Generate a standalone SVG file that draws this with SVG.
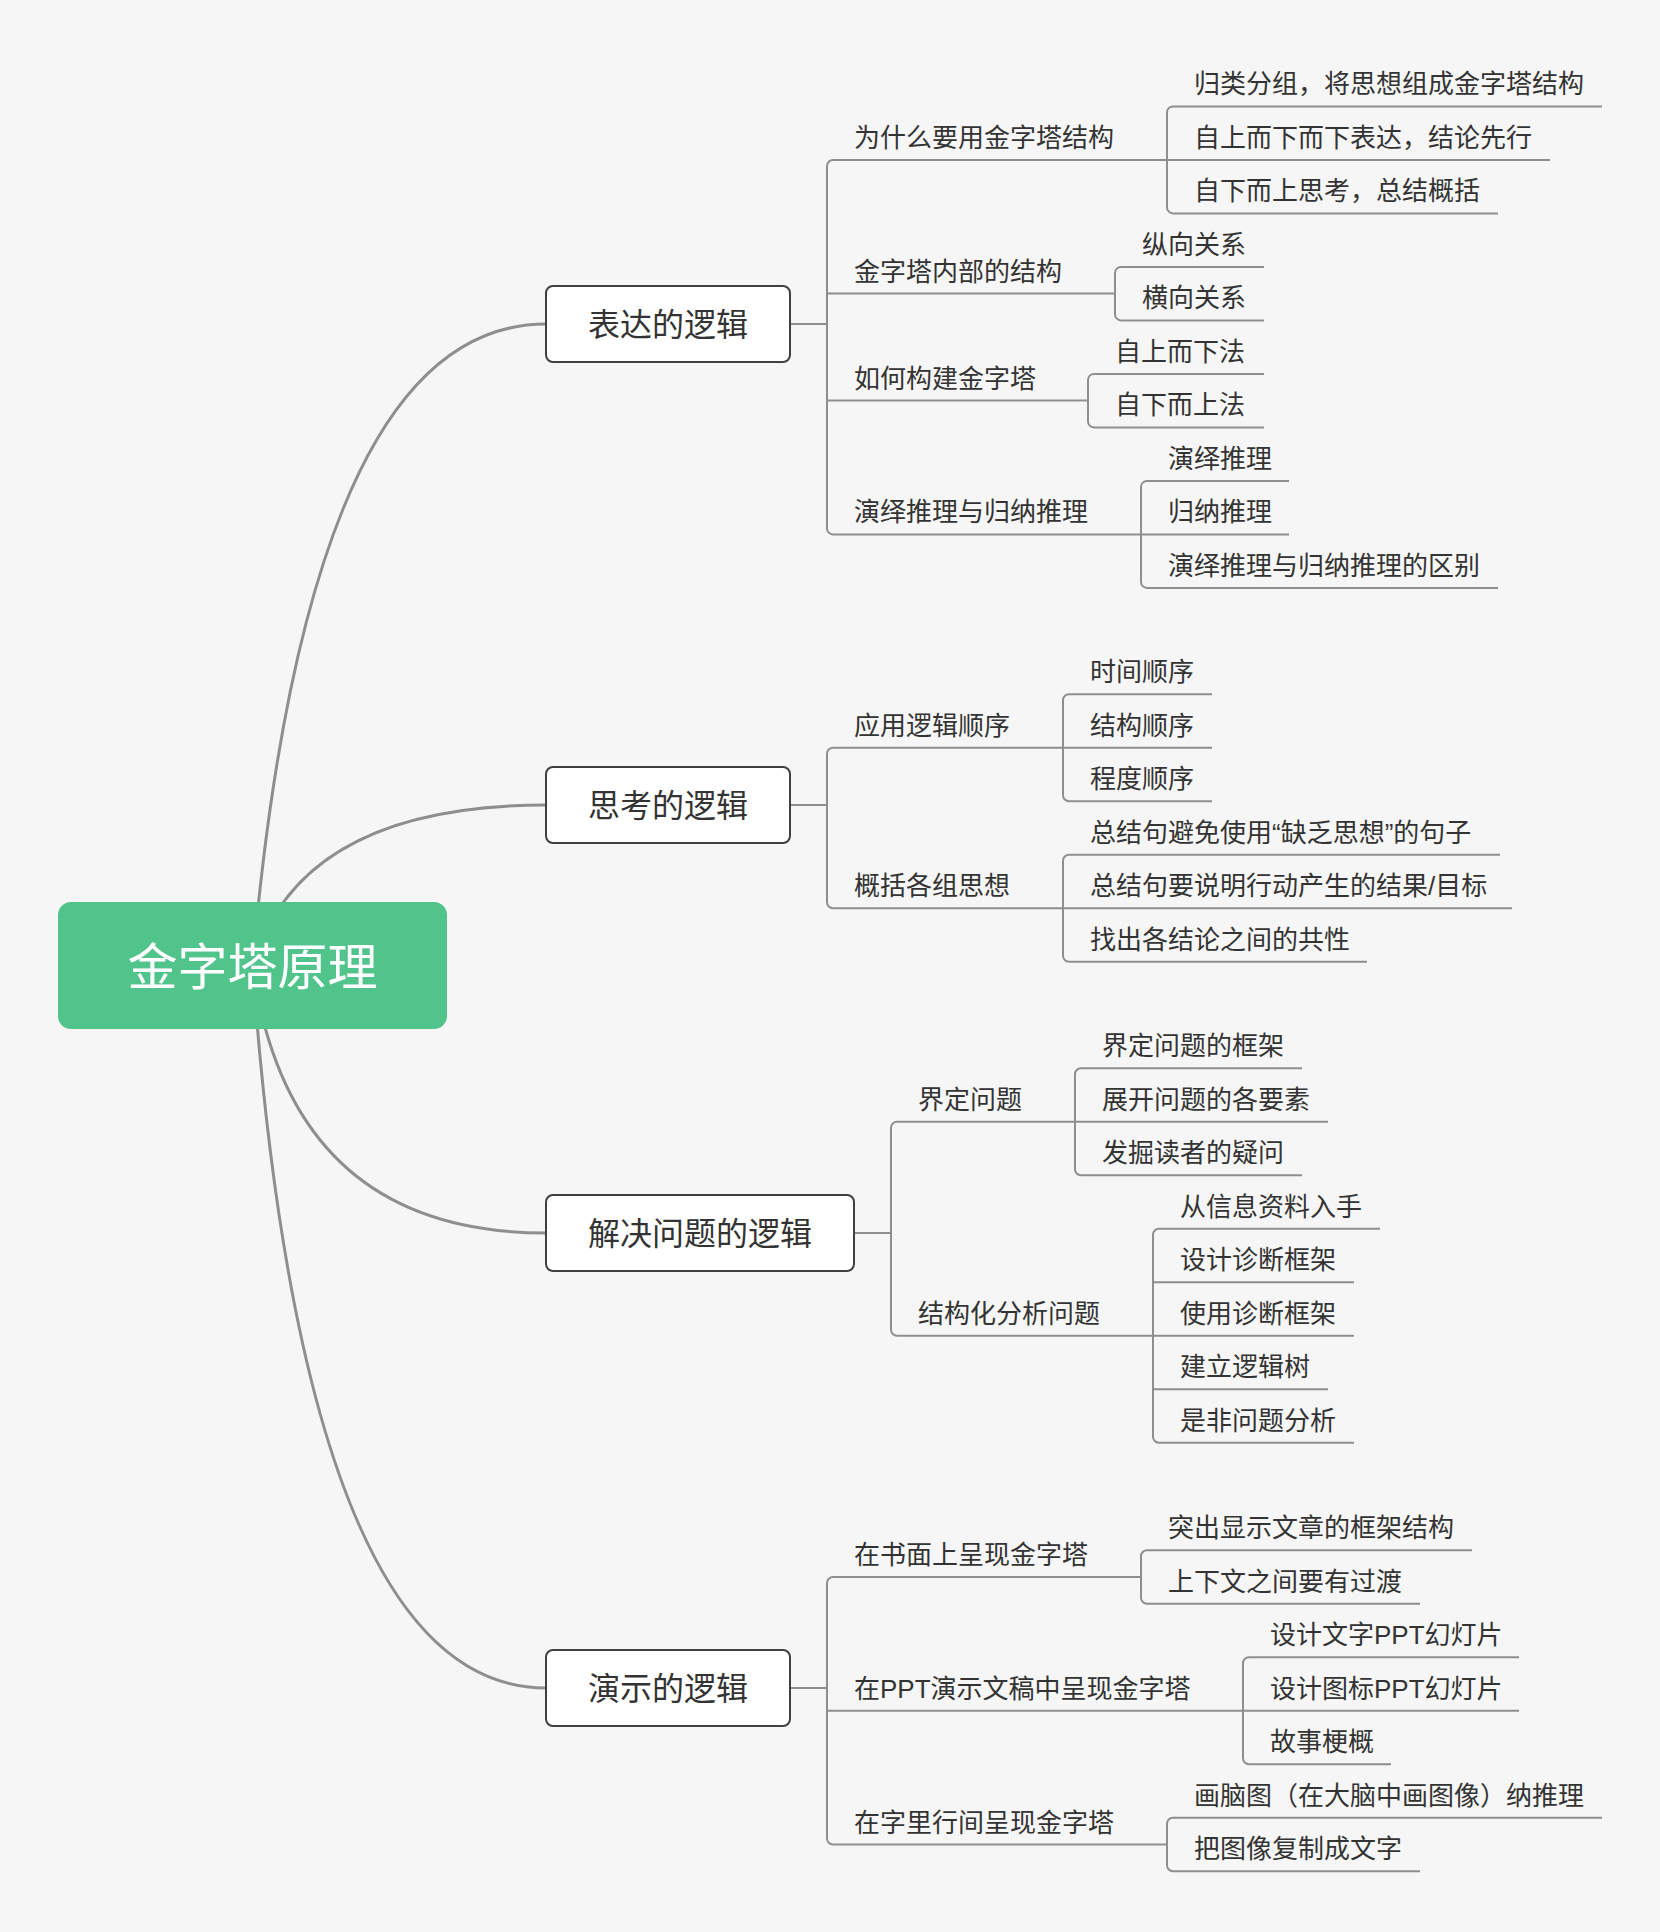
<svg xmlns="http://www.w3.org/2000/svg" width="1660" height="1932" viewBox="0 0 1660 1932">
<style>
text{font-family:"Liberation Sans","Noto Sans CJK SC",sans-serif;fill:#333333}
.t{font-size:26px}
.mt{font-size:32px;text-anchor:middle}
.rt{font-size:50px;text-anchor:middle;fill:#ffffff}
.curve{fill:none;stroke:#8e8e8e;stroke-width:3}
.ln{fill:none;stroke:#8e8e8e;stroke-width:2}
.box{fill:#ffffff;stroke:#404040;stroke-width:2}
</style>
<rect x="0" y="0" width="1660" height="1932" fill="#f6f6f6"/>
<g id="connectors">
<path class="curve" d="M252.5 965.5 Q308 324 546 324"/>
<path class="curve" d="M252.5 965.5 Q300 805 546 805"/>
<path class="curve" d="M252.5 965.5 Q290 1233 546 1233"/>
<path class="curve" d="M252.5 965.5 Q304 1688 546 1688"/>
<path class="ln" d="M790 324 H827"/>
<path class="ln" d="M833 160 A6 6 0 0 0 827 166 V528.4 A6 6 0 0 0 833 534.4"/>
<path class="ln" d="M833 160 H1167 M827 293.6 H1115 M827 400.6 H1088 M833 534.4 H1141"/>
<path class="ln" d="M1173 106.4 A6 6 0 0 0 1167 112.4 V207.4 A6 6 0 0 0 1173 213.4"/>
<path class="ln" d="M1173 106.4 H1602 M1167 160 H1550 M1173 213.4 H1498"/>
<path class="ln" d="M1121 266.9 A6 6 0 0 0 1115 272.9 V314.4 A6 6 0 0 0 1121 320.4"/>
<path class="ln" d="M1121 266.9 H1264 M1121 320.4 H1264"/>
<path class="ln" d="M1094 373.9 A6 6 0 0 0 1088 379.9 V421.4 A6 6 0 0 0 1094 427.4"/>
<path class="ln" d="M1094 373.9 H1264 M1094 427.4 H1264"/>
<path class="ln" d="M1147 480.9 A6 6 0 0 0 1141 486.9 V581.9 A6 6 0 0 0 1147 587.9"/>
<path class="ln" d="M1147 480.9 H1289 M1141 534.4 H1289 M1147 587.9 H1498"/>
<path class="ln" d="M790 805 H827"/>
<path class="ln" d="M833 747.7 A6 6 0 0 0 827 753.7 V902.2 A6 6 0 0 0 833 908.2"/>
<path class="ln" d="M833 747.7 H1063 M833 908.2 H1063"/>
<path class="ln" d="M1069 694.2 A6 6 0 0 0 1063 700.2 V795.2 A6 6 0 0 0 1069 801.2"/>
<path class="ln" d="M1069 694.2 H1212 M1063 747.7 H1212 M1069 801.2 H1212"/>
<path class="ln" d="M1069 854.7 A6 6 0 0 0 1063 860.7 V955.7 A6 6 0 0 0 1069 961.7"/>
<path class="ln" d="M1069 854.7 H1500 M1063 908.2 H1512 M1069 961.7 H1367"/>
<path class="ln" d="M854 1233 H891"/>
<path class="ln" d="M897 1121.8 A6 6 0 0 0 891 1127.8 V1329.8 A6 6 0 0 0 897 1335.8"/>
<path class="ln" d="M897 1121.8 H1075 M897 1335.8 H1153"/>
<path class="ln" d="M1081 1068.3 A6 6 0 0 0 1075 1074.3 V1169.3 A6 6 0 0 0 1081 1175.3"/>
<path class="ln" d="M1081 1068.3 H1302 M1075 1121.8 H1328 M1081 1175.3 H1302"/>
<path class="ln" d="M1159 1228.8 A6 6 0 0 0 1153 1234.8 V1436.8 A6 6 0 0 0 1159 1442.8"/>
<path class="ln" d="M1159 1228.8 H1380 M1153 1282.3 H1354 M1153 1335.8 H1354 M1153 1389.3 H1328 M1159 1442.8 H1354"/>
<path class="ln" d="M790 1688 H827"/>
<path class="ln" d="M833 1577 A6 6 0 0 0 827 1583 V1838.5 A6 6 0 0 0 833 1844.5"/>
<path class="ln" d="M833 1577 H1141 M827 1710.8 H1243 M833 1844.5 H1167"/>
<path class="ln" d="M1147 1550.3 A6 6 0 0 0 1141 1556.3 V1597.8 A6 6 0 0 0 1147 1603.8"/>
<path class="ln" d="M1147 1550.3 H1472 M1147 1603.8 H1420"/>
<path class="ln" d="M1249 1657.3 A6 6 0 0 0 1243 1663.3 V1758.3 A6 6 0 0 0 1249 1764.3"/>
<path class="ln" d="M1249 1657.3 H1519 M1243 1710.8 H1519 M1249 1764.3 H1391"/>
<path class="ln" d="M1173 1817.8 A6 6 0 0 0 1167 1823.8 V1865.3 A6 6 0 0 0 1173 1871.3"/>
<path class="ln" d="M1173 1817.8 H1602 M1173 1871.3 H1420"/>
</g>
<g id="root">
<rect x="58" y="902" width="389" height="127" rx="13" fill="#51c48c"/>
<text class="rt" x="252.5" y="984.5">金字塔原理</text>
</g>
<g id="n1">
<rect class="box" x="546" y="286" width="244" height="76" rx="7"/>
<text class="mt" x="668" y="336.2">表达的逻辑</text>
</g>
<g id="n2">
<rect class="box" x="546" y="767" width="244" height="76" rx="7"/>
<text class="mt" x="668" y="817.2">思考的逻辑</text>
</g>
<g id="n3">
<rect class="box" x="546" y="1195" width="308" height="76" rx="7"/>
<text class="mt" x="700" y="1245.2">解决问题的逻辑</text>
</g>
<g id="n4">
<rect class="box" x="546" y="1650" width="244" height="76" rx="7"/>
<text class="mt" x="668" y="1700.2">演示的逻辑</text>
</g>
<g id="s1-topics">
<text class="t" x="854" y="147">为什么要用金字塔结构</text>
<text class="t" x="854" y="280.6">金字塔内部的结构</text>
<text class="t" x="854" y="387.6">如何构建金字塔</text>
<text class="t" x="854" y="521.4">演绎推理与归纳推理</text>
</g>
<g id="s1-leaves">
<text class="t" x="1194" y="93.4">归类分组，将思想组成金字塔结构</text>
<text class="t" x="1194" y="147">自上而下而下表达，结论先行</text>
<text class="t" x="1194" y="200.4">自下而上思考，总结概括</text>
<text class="t" x="1142" y="253.9">纵向关系</text>
<text class="t" x="1142" y="307.4">横向关系</text>
<text class="t" x="1115" y="360.9">自上而下法</text>
<text class="t" x="1115" y="414.4">自下而上法</text>
<text class="t" x="1168" y="467.9">演绎推理</text>
<text class="t" x="1168" y="521.4">归纳推理</text>
<text class="t" x="1168" y="574.9">演绎推理与归纳推理的区别</text>
</g>
<g id="s2-topics">
<text class="t" x="854" y="734.7">应用逻辑顺序</text>
<text class="t" x="854" y="895.2">概括各组思想</text>
</g>
<g id="s2-leaves">
<text class="t" x="1090" y="681.2">时间顺序</text>
<text class="t" x="1090" y="734.7">结构顺序</text>
<text class="t" x="1090" y="788.2">程度顺序</text>
<text class="t" x="1090" y="841.7">总结句避免使用“缺乏思想”的句子</text>
<text class="t" x="1090" y="895.2">总结句要说明行动产生的结果/目标</text>
<text class="t" x="1090" y="948.7">找出各结论之间的共性</text>
</g>
<g id="s3-topics">
<text class="t" x="918" y="1108.8">界定问题</text>
<text class="t" x="918" y="1322.8">结构化分析问题</text>
</g>
<g id="s3-leaves">
<text class="t" x="1102" y="1055.3">界定问题的框架</text>
<text class="t" x="1102" y="1108.8">展开问题的各要素</text>
<text class="t" x="1102" y="1162.3">发掘读者的疑问</text>
<text class="t" x="1180" y="1215.8">从信息资料入手</text>
<text class="t" x="1180" y="1269.3">设计诊断框架</text>
<text class="t" x="1180" y="1322.8">使用诊断框架</text>
<text class="t" x="1180" y="1376.3">建立逻辑树</text>
<text class="t" x="1180" y="1429.8">是非问题分析</text>
</g>
<g id="s4-topics">
<text class="t" x="854" y="1564">在书面上呈现金字塔</text>
<text class="t" x="854" y="1697.8">在PPT演示文稿中呈现金字塔</text>
<text class="t" x="854" y="1831.5">在字里行间呈现金字塔</text>
</g>
<g id="s4-leaves">
<text class="t" x="1168" y="1537.3">突出显示文章的框架结构</text>
<text class="t" x="1168" y="1590.8">上下文之间要有过渡</text>
<text class="t" x="1270" y="1644.3">设计文字PPT幻灯片</text>
<text class="t" x="1270" y="1697.8">设计图标PPT幻灯片</text>
<text class="t" x="1270" y="1751.3">故事梗概</text>
<text class="t" x="1194" y="1804.8">画脑图（在大脑中画图像）纳推理</text>
<text class="t" x="1194" y="1858.3">把图像复制成文字</text>
</g>
</svg>
